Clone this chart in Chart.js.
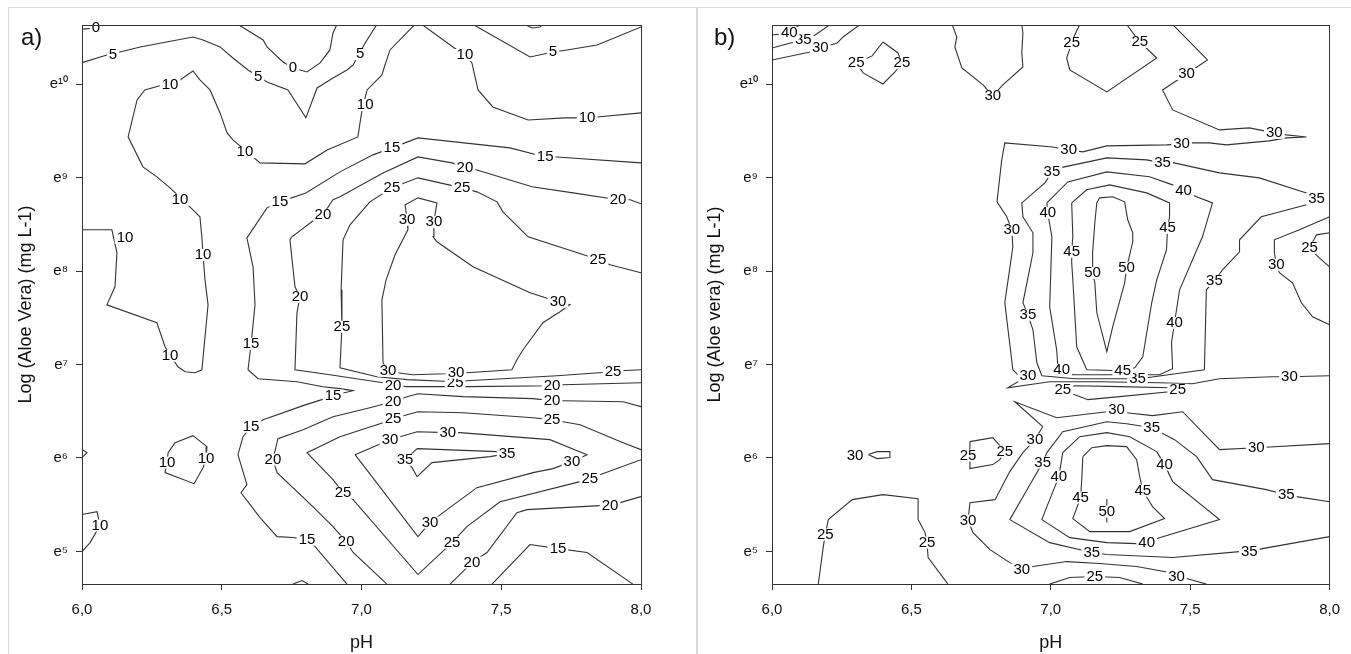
<!DOCTYPE html>
<html>
<head>
<meta charset="utf-8">
<script src="https://cdn.jsdelivr.net/npm/chart.js@4.4.1/dist/chart.umd.min.js"></script>
<style>
  body { margin: 0; background: #fff; width: 1351px; height: 654px; overflow: hidden; position: relative;
         font-family: "Liberation Sans", Arial, sans-serif; }
  .panel { position: absolute; top: 7px; height: 720px; border: 1px solid #dadada; box-sizing: border-box; }
  #panelA { left: 8px; width: 689px; }
  #panelB { left: 697px; width: 700px; }
  canvas { position: absolute; top: 7px; }
  #chartA { left: 8px; }
  #chartB { left: 697px; }
  .tag { position: absolute; top: 25px; font-size: 24px; line-height: 1; color: #111; }
</style>
</head>
<body>
<div class="panel" id="panelA"></div>
<div class="panel" id="panelB"></div>
<canvas id="chartA" width="689" height="647"></canvas>
<canvas id="chartB" width="654" height="647"></canvas>
<div class="tag" style="left:21px">a)</div>
<div class="tag" style="left:714px">b)</div>

<script>
// axes
const phMin = 6, phMax = 8;
const phTicks = [6.0, 6.5, 7.0, 7.5, 8.0];
const logMin = 4.651, logMax = 10.634;
const logTicks = [5, 6, 7, 8, 9, 10];

// panel a) contour lines, points are [pH, ln(aloe)]
const contoursA = [
  [[6.000,10.590],[6.050,10.602],[6.086,10.640]],
  [[6.558,10.640],[6.648,10.474],[6.662,10.399],[6.719,10.238],[6.755,10.174],[6.805,10.131],[6.852,10.228],[6.887,10.367],[6.898,10.549],[6.912,10.640]],
  [[7.585,10.640],[7.610,10.602],[7.639,10.613],[7.646,10.640]],
  [[6.000,10.231],[6.089,10.313],[6.136,10.345],[6.208,10.399],[6.397,10.506],[6.433,10.474],[6.494,10.399],[6.540,10.281],[6.594,10.153],[6.662,10.025],[6.737,9.939],[6.801,9.640],[6.841,9.960],[6.898,10.067],[6.948,10.153],[6.970,10.206],[7.013,10.442],[7.055,10.640]],
  [[7.399,10.640],[7.603,10.292],[7.685,10.345],[7.735,10.367],[7.843,10.420],[8.000,10.613]],
  [[6.000,8.442],[6.107,8.442],[6.125,8.196],[6.118,7.832],[6.089,7.639],[6.268,7.447],[6.297,7.190],[6.343,6.976],[6.369,6.922],[6.404,6.912],[6.429,6.944],[6.451,7.639],[6.440,7.907],[6.433,8.174],[6.429,8.356],[6.422,8.581],[6.397,8.656],[6.315,8.891],[6.268,9.009],[6.218,9.116],[6.165,9.437],[6.197,9.832],[6.225,9.939],[6.351,10.046],[6.397,10.142],[6.422,10.046],[6.458,9.939],[6.494,9.693],[6.519,9.479],[6.540,9.404],[6.637,9.158],[6.798,9.148],[6.877,9.297],[6.987,9.436],[7.002,9.725],[7.020,9.939],[7.073,10.099],[7.084,10.206],[7.102,10.367],[7.191,10.640]],
  [[6.333,6.164],[6.397,6.239],[6.447,6.121],[6.444,5.993],[6.433,5.896],[6.401,5.725],[6.297,5.843],[6.304,5.950],[6.308,6.057],[6.333,6.164]],
  [[6.000,5.394],[6.054,5.426],[6.064,5.276],[6.029,5.094],[6.000,4.998]],
  [[6.000,6.089],[6.018,6.057],[6.004,6.014]],
  [[6.755,4.650],[6.787,4.688],[6.809,4.650]],
  [[7.216,10.640],[7.342,10.367],[7.370,10.313],[7.395,10.228],[7.417,9.939],[7.470,9.757],[7.596,9.618],[7.728,9.640],[7.807,9.640],[7.843,9.650],[8.000,9.693]],
  [[6.948,4.650],[6.834,5.052],[6.805,5.126],[6.755,5.148],[6.698,5.158],[6.637,5.361],[6.569,5.628],[6.590,5.714],[6.558,6.035],[6.576,6.228],[6.605,6.335],[6.648,6.410],[6.791,6.560],[6.869,6.635],[6.923,6.688],[6.970,6.720],[6.923,6.742],[6.862,6.763],[6.769,6.816],[6.630,6.848],[6.594,6.945],[6.605,7.223],[6.619,7.639],[6.612,8.046],[6.590,8.356],[6.662,8.677],[6.708,8.741],[6.801,8.837],[6.923,9.062],[7.041,9.244],[7.109,9.319],[7.202,9.426],[7.531,9.319],[7.657,9.222],[7.699,9.222],[8.000,9.158]],
  [[7.467,4.650],[7.603,5.073],[7.703,5.030],[7.807,4.988],[7.971,4.650]],
  [[8.000,8.720],[7.961,8.763],[7.918,8.763],[7.757,8.837],[7.610,8.902],[7.413,9.083],[7.370,9.105],[7.324,9.158],[7.202,9.222],[7.077,9.051],[6.923,8.795],[6.898,8.763],[6.862,8.602],[6.841,8.570],[6.751,8.367],[6.744,8.335],[6.762,7.832],[6.780,7.725],[6.769,7.554],[6.762,6.944],[6.887,6.891],[7.077,6.805],[7.113,6.773],[7.163,6.763],[7.377,6.763],[7.682,6.773],[7.721,6.784],[8.000,6.805]],
  [[7.091,4.650],[6.970,4.988],[6.945,5.105],[6.898,5.265],[6.826,5.479],[6.698,5.843],[6.683,5.982],[6.701,6.207],[6.791,6.303],[6.898,6.442],[7.030,6.538],[7.084,6.581],[7.113,6.602],[7.163,6.656],[7.202,6.688],[7.363,6.656],[7.614,6.635],[7.682,6.613],[7.721,6.613],[7.936,6.602],[8.000,6.549]],
  [[8.000,5.586],[7.925,5.522],[7.889,5.490],[7.853,5.490],[7.592,5.447],[7.556,5.415],[7.449,4.988],[7.395,4.880],[7.317,4.650]],
  [[8.000,7.982],[7.889,8.067],[7.846,8.121],[7.817,8.153],[7.596,8.367],[7.506,8.634],[7.485,8.741],[7.413,8.848],[7.360,8.891],[7.202,8.998],[7.109,8.891],[7.030,8.741],[6.959,8.495],[6.934,8.335],[6.927,7.800],[6.930,7.404],[6.923,6.966],[7.055,6.869],[7.163,6.838],[7.335,6.816],[7.377,6.827],[7.699,6.880],[7.900,6.923],[7.925,6.934],[8.000,6.944]],
  [[8.000,6.089],[7.936,6.164],[7.782,6.356],[7.721,6.388],[7.682,6.410],[7.614,6.431],[7.363,6.484],[7.202,6.495],[7.163,6.463],[7.113,6.420],[7.077,6.377],[6.923,6.228],[6.805,6.057],[6.898,5.768],[6.934,5.629],[6.970,5.554],[7.202,4.752],[7.324,5.094],[7.377,5.265],[7.496,5.532],[7.782,5.747],[7.817,5.779],[7.853,5.821],[8.000,5.982]],
  [[7.077,7.019],[7.095,6.934],[7.127,6.912],[7.184,6.891],[7.299,6.902],[7.338,6.912],[7.377,6.912],[7.538,6.944],[7.556,7.051],[7.578,7.158],[7.649,7.447],[7.710,7.565],[7.746,7.639],[7.703,7.672],[7.603,7.768],[7.399,8.046],[7.270,8.314],[7.256,8.367],[7.259,8.527],[7.270,8.730],[7.202,8.784],[7.156,8.709],[7.163,8.549],[7.166,8.442],[7.120,8.174],[7.088,7.907],[7.073,7.693],[7.077,7.019]],
  [[6.977,6.035],[7.077,6.164],[7.102,6.196],[7.138,6.228],[7.199,6.281],[7.309,6.271],[7.352,6.271],[7.674,6.196],[7.807,6.035],[7.753,5.961],[7.685,5.886],[7.614,5.843],[7.413,5.682],[7.306,5.447],[7.245,5.308],[7.202,5.158],[6.977,6.035]],
  [[7.199,6.100],[7.485,6.068],[7.521,6.046],[7.460,6.014],[7.252,5.950],[7.199,5.800],[7.181,5.896],[7.156,5.982],[7.199,6.100]]
];

// panel a) contour labels [pH, ln(aloe), text]
const labelsA = [
  [6.050,10.602,'0'],[6.755,10.174,'0'],
  [6.111,10.313,'5'],[6.630,10.078,'5'],[6.995,10.324,'5'],[7.685,10.345,'5'],
  [6.154,8.356,'10'],[6.315,7.094,'10'],[6.433,8.174,'10'],[6.351,8.763,'10'],[6.315,9.992,'10'],[6.583,9.276,'10'],
  [7.013,9.778,'10'],[6.444,5.993,'10'],[6.304,5.950,'10'],[6.064,5.276,'10'],[7.370,10.313,'10'],[7.807,9.640,'10'],
  [6.805,5.126,'15'],[6.605,6.335,'15'],[6.898,6.667,'15'],[6.605,7.223,'15'],[6.708,8.741,'15'],[7.109,9.319,'15'],
  [7.657,9.222,'15'],[7.703,5.030,'15'],
  [7.918,8.763,'20'],[7.370,9.105,'20'],[6.862,8.602,'20'],[6.780,7.725,'20'],[7.113,6.773,'20'],[7.682,6.773,'20'],
  [6.945,5.105,'20'],[6.683,5.982,'20'],[7.113,6.602,'20'],[7.682,6.613,'20'],[7.889,5.490,'20'],[7.395,4.880,'20'],
  [7.846,8.121,'25'],[7.360,8.891,'25'],[7.109,8.891,'25'],[6.930,7.404,'25'],[7.335,6.800,'25'],[7.900,6.923,'25'],
  [7.682,6.410,'25'],[7.113,6.420,'25'],[6.934,5.629,'25'],[7.324,5.094,'25'],[7.817,5.779,'25'],
  [7.095,6.934,'30'],[7.338,6.912,'30'],[7.703,7.672,'30'],[7.259,8.527,'30'],[7.163,8.549,'30'],[7.102,6.196,'30'],
  [7.309,6.271,'30'],[7.753,5.961,'30'],[7.245,5.308,'30'],
  [7.521,6.046,'35'],[7.156,5.982,'35']
];

// panel b) contour lines
const contoursB = [
  [[6.000,10.527],[6.030,10.538],[6.062,10.549],[6.101,10.640]],
  [[6.000,10.388],[6.066,10.442],[6.112,10.474],[6.155,10.527],[6.209,10.640]],
  [[6.000,10.260],[6.137,10.345],[6.173,10.388],[6.234,10.442],[6.255,10.506],[6.316,10.640]],
  [[6.398,10.452],[6.452,10.335],[6.466,10.228],[6.441,10.131],[6.398,10.003],[6.327,10.121],[6.302,10.228],[6.359,10.303],[6.398,10.452]],
  [[6.646,10.640],[6.663,10.506],[6.656,10.399],[6.681,10.174],[6.757,9.993],[6.792,9.875],[6.828,9.993],[6.900,10.185],[6.896,10.335],[6.900,10.549],[6.896,10.640]],
  [[7.104,10.640],[7.086,10.527],[7.075,10.442],[7.057,10.281],[7.068,10.153],[7.201,9.918],[7.380,10.281],[7.319,10.452],[7.272,10.640]],
  [[7.437,10.640],[7.562,10.260],[7.487,10.110],[7.401,9.939],[7.437,9.725],[7.605,9.511],[7.712,9.533],[7.802,9.479],[7.845,9.458],[7.917,9.436],[7.845,9.426],[7.784,9.394],[7.630,9.351],[7.569,9.372],[7.505,9.372],[7.469,9.362],[7.415,9.351],[7.201,9.340],[7.115,9.276],[7.064,9.297],[7.007,9.329],[6.835,9.372],[6.824,9.190],[6.807,8.741],[6.842,8.581],[6.860,8.442],[6.864,8.260],[6.835,7.661],[6.864,6.944],[6.889,6.869],[6.918,6.880],[6.846,6.752],[6.996,6.816],[7.175,6.816],[7.390,6.805],[7.508,6.795],[7.605,6.848],[7.795,6.869],[7.856,6.869],[8.000,6.880]],
  [[7.953,8.773],[7.917,8.837],[7.748,8.998],[7.605,9.051],[7.426,9.169],[7.401,9.158],[7.344,9.190],[7.201,9.212],[7.032,9.105],[7.004,9.062],[6.979,8.944],[6.896,8.730],[6.900,8.581],[6.936,8.410],[6.936,8.196],[6.900,7.661],[6.918,7.532],[6.936,7.372],[6.950,7.019],[6.968,6.880],[7.086,6.848],[7.311,6.848],[7.344,6.859],[7.551,6.944],[7.558,7.800],[7.587,7.896],[7.616,8.014],[7.677,8.207],[7.677,8.335],[7.755,8.581],[7.917,8.709],[7.953,8.773]],
  [[6.986,8.730],[6.989,8.624],[7.004,8.367],[6.996,7.618],[7.021,7.158],[7.025,6.998],[7.039,6.944],[7.079,6.891],[7.390,6.891],[7.437,6.955],[7.433,7.233],[7.444,7.447],[7.451,7.586],[7.462,7.800],[7.544,8.367],[7.580,8.730],[7.523,8.795],[7.476,8.859],[7.437,8.923],[7.354,9.009],[7.201,9.062],[7.061,8.955],[6.986,8.730]],
  [[7.075,8.730],[7.129,8.870],[7.211,8.923],[7.344,8.837],[7.426,8.730],[7.426,8.581],[7.419,8.463],[7.415,8.228],[7.380,7.907],[7.362,7.661],[7.330,7.083],[7.301,6.966],[7.258,6.934],[7.129,6.944],[7.093,7.190],[7.079,7.907],[7.075,8.089],[7.075,8.207],[7.079,8.367],[7.075,8.730]],
  [[7.165,8.730],[7.175,8.784],[7.222,8.795],[7.265,8.741],[7.276,8.549],[7.294,8.410],[7.294,8.314],[7.272,8.035],[7.265,7.875],[7.222,7.404],[7.201,7.137],[7.165,7.554],[7.158,7.875],[7.150,7.982],[7.150,8.196],[7.158,8.517],[7.165,8.730]],
  [[7.014,6.730],[7.043,6.730],[7.086,6.773],[7.247,6.763],[7.426,6.752],[7.455,6.730],[7.426,6.709],[7.247,6.656],[7.133,6.624],[7.086,6.677],[7.014,6.730]],
  [[8.000,6.153],[7.737,6.110],[7.605,6.089],[7.473,6.495],[7.365,6.453],[7.272,6.484],[7.236,6.517],[7.201,6.495],[7.021,6.431],[6.871,6.602],[6.971,6.335],[6.943,6.196],[6.900,6.057],[6.853,5.854],[6.800,5.554],[6.710,5.522],[6.703,5.329],[6.721,5.201],[6.782,5.019],[6.853,4.880],[6.896,4.806],[6.936,4.838],[7.057,4.891],[7.175,4.870],[7.308,4.838],[7.426,4.774],[7.451,4.731],[7.487,4.709],[7.558,4.650]],
  [[8.000,5.532],[7.881,5.586],[7.845,5.607],[7.773,5.661],[7.580,5.768],[7.523,6.014],[7.444,6.196],[7.362,6.324],[7.272,6.367],[7.201,6.388],[7.043,6.281],[6.986,6.057],[6.971,5.950],[6.925,5.714],[6.853,5.340],[6.996,5.094],[7.147,4.988],[7.201,4.966],[7.437,4.934],[7.677,4.998],[7.712,4.998],[7.759,5.030],[8.000,5.158]],
  [[7.380,6.068],[7.408,5.929],[7.437,5.747],[7.605,5.340],[7.390,5.147],[7.344,5.094],[7.308,5.083],[7.201,5.094],[7.068,5.147],[6.968,5.340],[6.986,5.479],[7.029,5.800],[7.043,6.057],[7.104,6.228],[7.201,6.271],[7.283,6.228],[7.380,6.068]],
  [[7.115,6.014],[7.147,6.110],[7.201,6.132],[7.272,6.121],[7.308,5.982],[7.319,5.800],[7.330,5.650],[7.365,5.479],[7.408,5.351],[7.283,5.212],[7.140,5.212],[7.079,5.351],[7.107,5.575],[7.111,5.768],[7.115,6.014]],
  [[7.201,5.560],[7.201,5.310]],
  [[6.996,4.650],[7.068,4.720],[7.158,4.731],[7.247,4.720],[7.330,4.650]],
  [[6.345,6.036],[6.377,6.068],[6.423,6.068],[6.423,6.004],[6.377,5.993],[6.345,6.036]],
  [[6.710,6.175],[6.792,6.217],[6.814,6.142],[6.835,6.068],[6.817,5.982],[6.792,5.929],[6.710,5.886],[6.710,5.961],[6.703,6.025],[6.710,6.110],[6.710,6.175]],
  [[6.166,4.650],[6.184,5.051],[6.191,5.180],[6.202,5.340],[6.288,5.554],[6.398,5.607],[6.524,5.564],[6.524,5.340],[6.549,5.201],[6.556,5.094],[6.560,4.934],[6.631,4.650]],
  [[8.000,8.410],[7.953,8.388],[7.928,8.249],[7.963,8.142],[8.000,8.046]],
  [[8.000,8.581],[7.892,8.442],[7.802,8.335],[7.802,8.196],[7.809,8.067],[7.820,7.982],[7.867,7.875],[7.899,7.661],[7.939,7.511],[8.000,7.425]]
];

const labelsB = [
  [6.466,10.228,'25'],[6.302,10.228,'25'],[7.075,10.442,'25'],[7.319,10.452,'25'],[7.043,6.730,'25'],[7.455,6.730,'25'],
  [7.158,4.731,'25'],[6.835,6.068,'25'],[6.703,6.025,'25'],[6.191,5.180,'25'],[6.556,5.094,'25'],[7.928,8.249,'25'],
  [6.173,10.388,'30'],[6.792,9.875,'30'],[7.487,10.110,'30'],[7.802,9.479,'30'],[7.469,9.362,'30'],[7.064,9.297,'30'],
  [6.860,8.442,'30'],[6.918,6.880,'30'],[7.856,6.869,'30'],[7.737,6.110,'30'],[7.236,6.517,'30'],[6.943,6.196,'30'],
  [6.703,5.329,'30'],[6.896,4.806,'30'],[7.451,4.731,'30'],[6.298,6.025,'30'],[7.809,8.067,'30'],
  [6.112,10.474,'35'],[7.953,8.773,'35'],[7.401,9.158,'35'],[7.004,9.062,'35'],[6.918,7.532,'35'],[7.311,6.848,'35'],
  [7.587,7.896,'35'],[7.845,5.607,'35'],[7.362,6.324,'35'],[6.971,5.950,'35'],[7.147,4.988,'35'],[7.712,4.998,'35'],
  [6.062,10.549,'40'],[6.989,8.624,'40'],[7.476,8.859,'40'],[7.444,7.447,'40'],[7.039,6.944,'40'],[7.408,5.929,'40'],
  [7.029,5.800,'40'],[7.344,5.094,'40'],
  [7.419,8.463,'45'],[7.258,6.934,'45'],[7.075,8.207,'45'],[7.330,5.650,'45'],[7.107,5.575,'45'],
  [7.272,8.035,'50'],[7.150,7.982,'50'],[7.201,5.426,'50']
];

const FAMILY = '"Liberation Sans", Arial, Helvetica, sans-serif';
const sup = {'0':'\u2070','1':'\u00b9','2':'\u00b2','3':'\u00b3','4':'\u2074','5':'\u2075','6':'\u2076','7':'\u2077','8':'\u2078','9':'\u2079'};

// contour labels sit on a white patch that breaks the line, then the frame is redrawn
const contourLabels = {
  id: 'contourLabels',
  afterDatasetsDraw(chart, args, opts) {
    const {ctx, chartArea: a} = chart;
    const xs = chart.scales.x, ys = chart.scales.y;
    ctx.save();
    ctx.font = '15px ' + FAMILY;
    ctx.textAlign = 'center';
    ctx.textBaseline = 'middle';
    opts.items.forEach(([vx, vy, txt]) => {
      const px = xs.getPixelForValue(vx);
      const py = ys.getPixelForValue(vy);
      const w = ctx.measureText(txt).width + 4;
      ctx.fillStyle = '#fff';
      ctx.fillRect(px - w / 2, py - 6, w, 12);
      ctx.fillStyle = '#000';
      ctx.fillText(txt, px, py);
    });
    ctx.strokeStyle = '#333';
    ctx.lineWidth = 1;
    const l = Math.floor(a.left), t = Math.floor(a.top), r = Math.floor(a.right), b = Math.floor(a.bottom);
    ctx.strokeRect(l + 0.5, t + 0.5, r - l, b - t);
    ctx.restore();
  }
};

function makeChart(id, contours, labels, yTitle, yWidth, rightPad) {
  const tickFont = {family: FAMILY, size: 15};
  const titleFont = {family: FAMILY, size: 18};
  return new Chart(document.getElementById(id), {
    type: 'scatter',
    data: {
      datasets: contours.map(pts => ({
        data: pts.map(p => ({x: p[0], y: p[1]})),
        showLine: true,
        pointRadius: 0,
        borderColor: '#333',
        borderWidth: 1.1,
        tension: 0
      }))
    },
    options: {
      responsive: false,
      animation: false,
      events: [],
      layout: {padding: {top: 18, right: rightPad, left: 0, bottom: 0}},
      plugins: {
        legend: {display: false},
        tooltip: {enabled: false},
        contourLabels: {items: labels}
      },
      scales: {
        x: {
          type: 'linear', min: phMin, max: phMax,
          afterBuildTicks: s => { s.ticks = phTicks.map(v => ({value: v})); },
          afterFit: s => { s.height = 70; },
          ticks: {callback: v => Number(v).toFixed(1).replace('.', ','), font: tickFont, color: '#111', padding: 11},
          grid: {drawOnChartArea: false, tickLength: 6, color: '#333'},
          border: {color: '#333'},
          title: {display: true, text: 'pH', font: titleFont, color: '#111', padding: {top: 0, bottom: 0}}
        },
        y: {
          type: 'linear', min: logMin, max: logMax,
          afterBuildTicks: s => { s.ticks = logTicks.map(v => ({value: v})); },
          afterFit: s => { s.width = yWidth; },
          ticks: {
            callback: v => 'e' + String(v).split('').map(c => sup[c]).join(''),
            font: tickFont, color: '#111', padding: 8
          },
          grid: {drawOnChartArea: false, tickLength: 6, color: '#333'},
          border: {color: '#333'},
          title: {display: true, text: yTitle, font: titleFont, color: '#111', padding: {top: 7, bottom: 0}}
        }
      }
    },
    plugins: [contourLabels]
  });
}

makeChart('chartA', contoursA, labelsA, 'Log (Aloe Vera) (mg L-1)', 74, 56);
makeChart('chartB', contoursB, labelsB, 'Log (Aloe vera) (mg L-1)', 75, 21);
</script>
</body>
</html>
